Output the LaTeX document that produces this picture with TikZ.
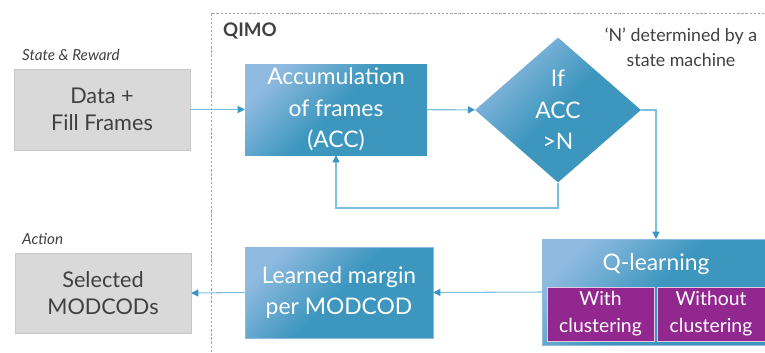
\documentclass[tikz,border=0pt]{standalone}
\usepackage{fontspec}
\setmainfont{Lato}
\usetikzlibrary{shapes.geometric,arrows.meta}
\definecolor{paleblue}{RGB}{143,186,224}
\definecolor{deepblue}{RGB}{60,150,190}
\definecolor{linkblue}{RGB}{125,192,222}
\definecolor{tipblue}{RGB}{55,150,195}
\definecolor{boxgray}{RGB}{217,217,217}
\definecolor{edgegray}{RGB}{200,200,200}
\definecolor{inkgray}{RGB}{64,64,64}
\definecolor{qpurple}{RGB}{146,39,143}
\tikzset{
  graybox/.style={draw=edgegray, fill=boxgray, text=inkgray, align=center,
    inner sep=0pt, font=\fontsize{18.5}{23}\selectfont},
  bluebox/.style={top color=paleblue, bottom color=deepblue, middle color=deepblue,
    shading angle=45, text=white, align=center, inner sep=0pt,
    font=\fontsize{19.5}{27}\selectfont},
  clusterbox/.style={draw=white!75!qpurple, line width=0.8pt, fill=qpurple, text=white,
    align=center, inner sep=0pt, font=\fontsize{16.5}{23}\selectfont},
  link/.style={draw=linkblue, line width=0.9pt,
    -{Triangle[length=6pt,width=6pt,color=tipblue]}},
  smalltext/.style={text=inkgray, font=\fontsize{13}{16}\selectfont\itshape, anchor=west}
}

\begin{document}
\begin{tikzpicture}[x=0.03cm, y=-0.03cm]
    \useasboundingbox (0,0) rectangle (765,352);

    % QIMO frame
    \draw[gray!70, line width=0.5pt, dash pattern=on 2pt off 1.5pt] (211,352) -- (211,13) -- (765,13);
    \node[text=inkgray, font=\fontsize{16}{18}\selectfont\bfseries, anchor=west] (qimo) at (219,31) {QIMO};

    % inputs and outputs
    \node[smalltext] (statelbl) at (18,55) {State \& Reward};
    \node[graybox, minimum width=5.28cm, minimum height=2.43cm] (data) at (102,109.5) {Data +\\Fill Frames};
    \node[smalltext] (actionlbl) at (18,239) {Action};
    \node[graybox, minimum width=5.28cm, minimum height=2.4cm] (sel) at (103,293) {Selected\\MODCODs};

    % QIMO blocks
    \node[bluebox, minimum width=5.46cm, minimum height=2.73cm] (acc) at (336,109.5) {Accumulation\\of frames\\(ACC)};
    \node[bluebox, diamond, minimum width=4.98cm, minimum height=4.35cm] (cond) at (558,110) {If\\ACC\\>N};
    \node[text=inkgray, align=center, font=\fontsize{15.2}{21.5}\selectfont] (nnote) at (681,47) {`N' determined by a\\state machine};
    \node[bluebox, draw=paleblue, minimum width=5.64cm, minimum height=2.73cm] (learn) at (339,292.5) {Learned margin\\per MODCOD};

    % Q-learning with the two variants
    \node[bluebox, draw=paleblue, minimum width=6.72cm, minimum height=3.18cm] (ql) at (654,292) {};
    \node[text=white, font=\fontsize{19.5}{24}\selectfont] (qltext) at (656,264) {Q-learning};
    \node[clusterbox, minimum width=3.21cm, minimum height=1.62cm] (with) at (600.5,314) {With\\clustering};
    \node[clusterbox, minimum width=3.24cm, minimum height=1.62cm] (without) at (711,314) {Without\\clustering};

    % connectors
    \coordinate (back) at (558,208);
    \coordinate (turn) at (656,110);
    \draw[link] (data) -- (acc);
    \draw[link] (acc) -- (cond);
    \draw[link] (cond.south) -- (back) -| (acc.south);
    \draw[link] (cond.east) -- (turn) -- (turn |- ql.north);
    \draw[link] (ql.west) -- (learn.east);
    \draw[link] (learn.west) -- (sel.east);
\end{tikzpicture}
\end{document}
